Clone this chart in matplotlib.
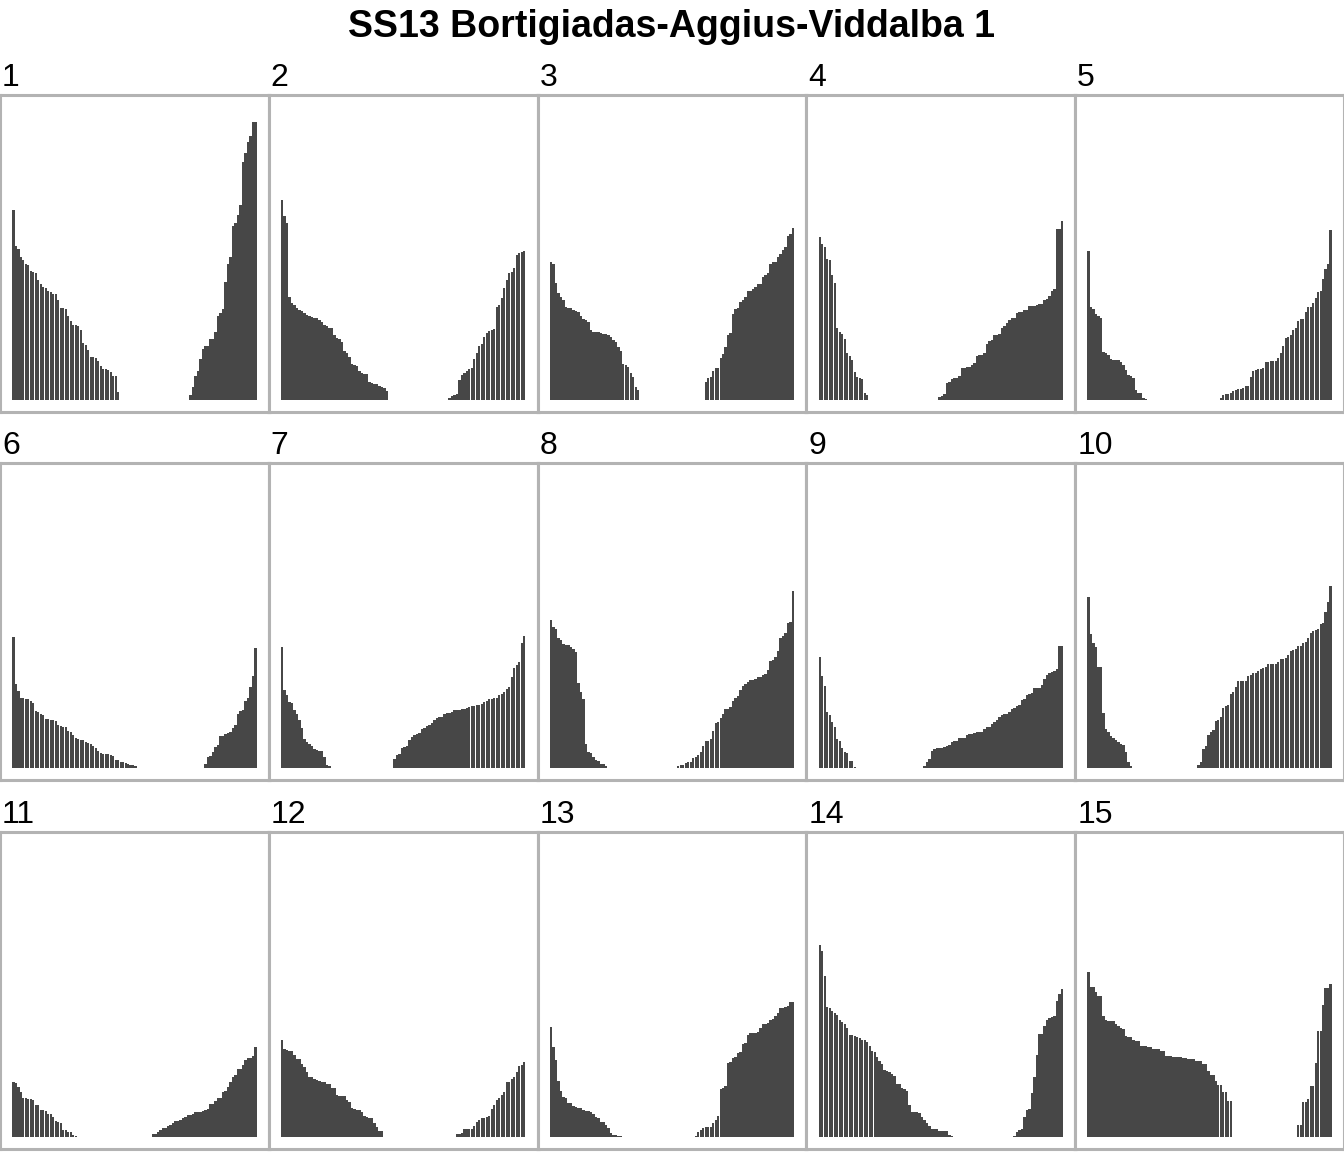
import numpy as np
import matplotlib
matplotlib.use("Agg")
import matplotlib.pyplot as plt

plt.rcParams['font.family'] = ['Liberation Sans', 'DejaVu Sans']

title = 'SS13 Bortigiadas-Aggius-Viddalba 1'
n_bars = 98

# bar heights; each panel: a falling run from the left,
# a rising run ending at the last position, zero in between
p1_left = [190, 154, 151, 143, 140, 136, 135, 129, 128, 127, 120, 116, 113, 112, 109, 108, 106, 106, 100, 92,
           92, 91, 84, 79, 75, 75, 74, 70, 57, 55, 50, 43, 43, 42, 39, 34, 31, 31, 30, 28, 24, 24, 8]
p1_right = [5, 13, 24, 29, 41, 51, 54, 54, 61, 61, 68, 84, 87, 91, 118, 136, 143, 174, 177, 185,
            195, 238, 247, 258, 264, 278, 278]

p2_left = [200, 184, 177, 103, 97, 95, 92, 90, 89, 87, 85, 84, 83, 82, 82, 80, 78, 75, 74, 72,
           72, 65, 62, 61, 58, 49, 47, 43, 36, 35, 34, 29, 27, 26, 26, 18, 17, 16, 16, 14, 13, 12, 9]
p2_right = [2, 4, 5, 6, 20, 25, 27, 29, 31, 32, 41, 47, 54, 56, 63, 67, 69, 70, 71, 93,
            95, 102, 112, 120, 127, 128, 132, 145, 147, 148, 149]

p3_left = [138, 136, 117, 107, 103, 100, 93, 92, 92, 90, 89, 88, 84, 81, 80, 78, 70, 68, 68, 68,
           67, 66, 66, 65, 63, 60, 58, 53, 49, 36, 35, 33, 27, 23, 13, 10]
p3_right = [18, 22, 23, 29, 32, 32, 42, 46, 53, 65, 67, 86, 91, 92, 98, 100, 103, 109, 109, 111,
            113, 116, 116, 123, 125, 127, 136, 138, 138, 143, 146, 150, 153, 164, 166, 172]

p4_left = [163, 156, 153, 141, 140, 125, 117, 72, 68, 66, 61, 47, 44, 40, 28, 23, 22, 21, 7, 5]
p4_right = [3, 4, 6, 17, 18, 21, 22, 22, 24, 32, 32, 33, 33, 35, 37, 44, 45, 45, 47, 56,
            59, 60, 65, 65, 66, 72, 74, 77, 80, 82, 82, 87, 88, 88, 90, 90, 94, 94, 94, 95,
            96, 96, 100, 101, 104, 109, 111, 171, 171, 179]

p5_left = [149, 93, 91, 86, 84, 82, 48, 47, 45, 41, 40, 40, 40, 38, 35, 30, 25, 24, 22, 10, 7, 7, 2, 1]
p5_right = [2, 5, 6, 6, 7, 9, 10, 11, 11, 12, 14, 14, 23, 29, 30, 31, 31, 32, 38, 38,
            39, 39, 39, 42, 47, 54, 62, 63, 65, 70, 72, 79, 81, 81, 88, 93, 93, 97, 102, 108,
            109, 121, 131, 136, 170]

p6_left = [131, 84, 77, 70, 70, 69, 69, 67, 65, 57, 56, 54, 53, 49, 49, 48, 48, 47, 43, 42,
           41, 41, 37, 36, 33, 30, 29, 28, 28, 26, 25, 24, 22, 20, 17, 15, 14, 14, 14, 13,
           12, 8, 8, 6, 6, 5, 4, 3, 3, 2]
p6_right = [4, 11, 12, 16, 21, 23, 32, 32, 34, 35, 36, 40, 43, 54, 57, 58, 67, 70, 81, 92, 120]

p7_left = [121, 78, 73, 66, 65, 58, 54, 48, 40, 29, 26, 24, 22, 19, 18, 17, 17, 11, 3, 2]
p7_right = [9, 13, 14, 20, 21, 22, 28, 31, 33, 34, 35, 39, 40, 42, 43, 45, 48, 50, 51, 51,
            54, 55, 55, 56, 58, 58, 58, 59, 59, 60, 61, 62, 62, 63, 63, 64, 66, 67, 69, 69,
            70, 70, 73, 74, 76, 79, 81, 91, 100, 103, 106, 125, 132]

p8_left = [148, 141, 139, 130, 128, 124, 123, 123, 121, 119, 116, 85, 76, 69, 24, 16, 15, 11, 8, 7, 4, 4, 2]
p8_right = [2, 3, 3, 5, 6, 6, 10, 11, 13, 16, 22, 27, 27, 29, 37, 45, 46, 50, 54, 59,
            59, 61, 67, 70, 72, 78, 82, 84, 86, 88, 88, 89, 91, 91, 93, 94, 98, 107, 108, 111,
            117, 130, 132, 135, 145, 146, 177]

p9_left = [111, 92, 82, 56, 53, 46, 41, 29, 27, 20, 16, 15, 7, 7, 1]
p9_right = [2, 6, 9, 17, 19, 20, 20, 20, 21, 22, 23, 26, 27, 27, 30, 30, 30, 33, 34, 34,
            35, 36, 36, 36, 39, 41, 41, 44, 46, 48, 51, 53, 54, 54, 56, 59, 60, 62, 63, 68,
            69, 73, 74, 75, 80, 80, 80, 83, 89, 93, 95, 96, 97, 99, 122, 122]

p10_left = [171, 134, 125, 121, 101, 101, 55, 39, 36, 32, 30, 28, 26, 24, 23, 16, 6, 2]
p10_right = [3, 6, 19, 22, 33, 36, 38, 47, 48, 51, 60, 62, 63, 74, 76, 81, 87, 87, 87, 87,
             92, 93, 95, 95, 97, 99, 100, 101, 104, 104, 104, 104, 106, 109, 109, 110, 113, 117, 118, 119,
             122, 122, 125, 126, 130, 135, 137, 138, 139, 144, 145, 156, 166, 182]

p11_left = [55, 54, 50, 45, 39, 39, 38, 38, 37, 32, 32, 27, 27, 26, 23, 23, 20, 16, 15, 14, 7, 7, 5, 5, 2, 1]
p11_right = [3, 3, 5, 7, 9, 9, 11, 12, 14, 16, 16, 17, 19, 20, 22, 22, 23, 25, 25, 25,
             26, 27, 28, 33, 33, 36, 39, 39, 45, 46, 50, 55, 60, 62, 68, 68, 72, 77, 79, 79, 81, 90]

p12_left = [97, 88, 87, 86, 86, 82, 78, 78, 73, 70, 65, 60, 60, 58, 57, 56, 55, 55, 53, 53,
            49, 49, 42, 41, 41, 41, 37, 35, 29, 28, 27, 27, 25, 21, 20, 19, 19, 14, 10, 6, 6]
p12_right = [3, 3, 4, 8, 8, 8, 8, 11, 15, 17, 19, 19, 20, 21, 28, 32, 37, 39, 42, 45,
             55, 55, 58, 60, 65, 71, 72, 75]

p13_left = [110, 90, 77, 56, 46, 40, 39, 34, 34, 31, 30, 29, 29, 27, 26, 26, 25, 23, 20, 19,
            15, 15, 12, 9, 4, 2, 2, 1, 1]
p13_right = [1, 5, 7, 9, 10, 10, 10, 14, 17, 21, 48, 49, 51, 74, 75, 79, 80, 84, 85, 93,
             94, 102, 104, 104, 104, 105, 109, 113, 113, 114, 117, 118, 121, 124, 129, 129, 130, 131, 135, 135]

p14_left = [192, 186, 161, 130, 129, 126, 124, 122, 117, 115, 113, 109, 102, 102, 101, 100, 99, 97, 97, 95,
            91, 86, 85, 80, 76, 73, 67, 66, 65, 63, 61, 53, 53, 49, 48, 46, 32, 25, 25, 25,
            24, 20, 17, 14, 11, 8, 8, 8, 6, 6, 6, 6, 2, 1]
p14_right = [1, 5, 7, 8, 20, 27, 28, 44, 60, 82, 103, 103, 111, 117, 119, 120, 121, 136, 143, 148]

p15_left = [165, 150, 150, 145, 141, 141, 121, 117, 116, 116, 116, 113, 111, 109, 108, 101, 100, 100, 97, 96,
            96, 91, 91, 91, 90, 90, 88, 88, 88, 86, 86, 81, 81, 81, 80, 80, 80, 80, 79, 79,
            78, 78, 78, 76, 76, 76, 73, 73, 66, 62, 62, 56, 52, 52, 45, 45, 36, 36]
p15_right = [12, 12, 35, 35, 38, 51, 51, 74, 106, 106, 132, 149, 149, 153]

panel_labels = [str(i) for i in range(1, 16)]
lefts = [p1_left, p2_left, p3_left, p4_left, p5_left, p6_left, p7_left, p8_left,
         p9_left, p10_left, p11_left, p12_left, p13_left, p14_left, p15_left]
rights = [p1_right, p2_right, p3_right, p4_right, p5_right, p6_right, p7_right, p8_right,
          p9_right, p10_right, p11_right, p12_right, p13_right, p14_right, p15_right]

W, H = 1344, 1152
fig = plt.figure(figsize=(W / 100, H / 100), dpi=100)
fig.patch.set_facecolor('white')

row_tops = [95, 463, 832]
panel_h = 317
col_w = W / 5

fig.text(0.5, 1 - 37 / H, title, ha='center', va='baseline',
         fontsize=27, fontweight='bold')

for i, (lab, left, right) in enumerate(zip(panel_labels, lefts, rights)):
    r, c = divmod(i, 5)
    top = row_tops[r]
    ax = fig.add_axes([c * col_w / W, 1 - (top + panel_h) / H, col_w / W, panel_h / H])
    vals = np.zeros(n_bars)
    vals[:len(left)] = left
    vals[n_bars - len(right):] = right
    x = np.arange(1, n_bars + 1)
    ax.bar(x, vals, width=0.93, color='#474747', linewidth=0, antialiased=False)
    ax.set_xlim(0.55 - 4.9, n_bars + 0.45 + 4.9)
    ax.set_ylim(-12, 305)
    ax.set_xticks([])
    ax.set_yticks([])
    for s in ax.spines.values():
        s.set_color('#b3b3b3')
        s.set_linewidth(2.2)
    fig.text((c * col_w + 2) / W, 1 - (top - 9) / H, lab, ha='left', va='baseline', fontsize=23)

fig.savefig('out.png', dpi=100, facecolor='white')
